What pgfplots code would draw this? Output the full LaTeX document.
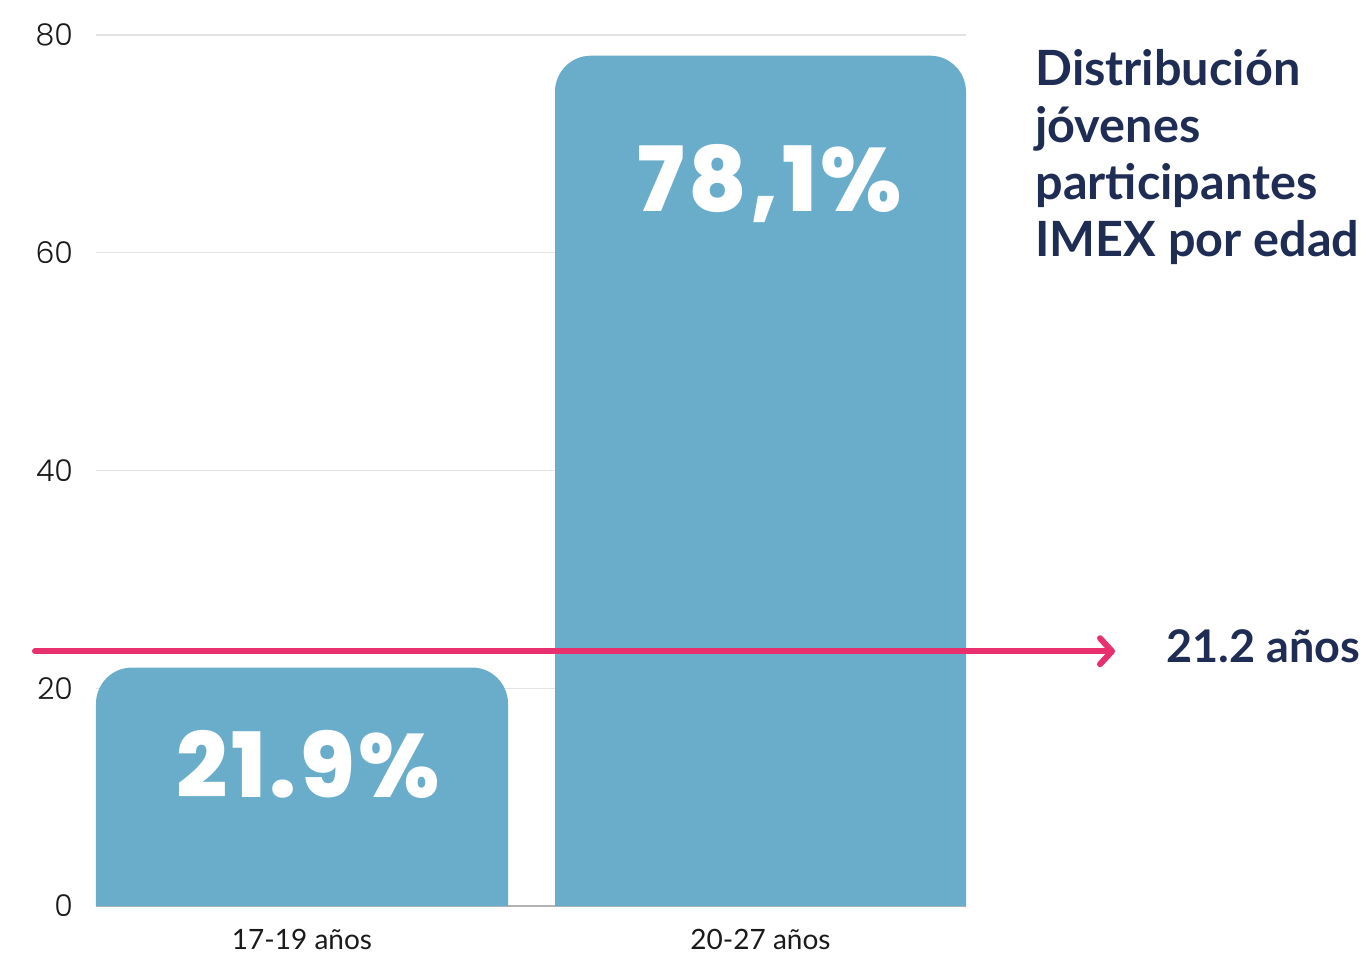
\documentclass[border=0pt]{standalone}
\usepackage{fontspec}
\usepackage{pgfplots}
\pgfplotsset{compat=1.18}
\usetikzlibrary{arrows.meta}
\setmainfont{Lato}
\newfontfamily\tickfont{Poppins Light}
\newfontfamily\xfont{Lato}
\newfontfamily\titlefont{Lato Bold}
\newfontfamily\barfont[LetterSpace=4]{Poppins ExtraBold}
\definecolor{barblue}{HTML}{69ADCB}
\definecolor{navy}{HTML}{1F2D54}
\definecolor{arrowred}{HTML}{E8306F}
\definecolor{ticktext}{HTML}{1A1A1A}
\begin{document}
\begin{tikzpicture}
\useasboundingbox (-48pt,-23.5pt) rectangle (637pt,453pt);
\begin{axis}[
  at={(0,0)}, anchor=south west,
  scale only axis, width=435pt, height=435.5pt,
  xmin=0, xmax=870, ymin=0, ymax=80,
  clip=false,
  axis x line*=bottom, axis y line*=left,
  y axis line style={draw=none},
  x axis line style={draw=gray!60, line width=0.6pt, -},
  major tick length=0pt,
  ymajorgrids=true,
  grid style={gray!22, line width=0.6pt},
  ytick={0,20,40,60,80},
  xtick={206,664.5},
  xticklabels={17-19 años, 20-27 años},
  /pgf/number format/assume math mode=true,
  yticklabel style={font=\tickfont\fontsize{15}{18}\selectfont, text=ticktext, anchor=east, xshift=-8pt},
  xticklabel style={font=\xfont\fontsize{14}{17}\selectfont, text=ticktext, yshift=-8pt},
]
\addplot[fill=barblue, draw=none, no markers, rounded corners=18pt] coordinates {(0,0) (0,21.9) (412,21.9) (412,0)};
\addplot[fill=barblue, draw=none, no markers, rounded corners=18pt] coordinates {(459,0) (459,78.1) (870,78.1) (870,0)};
\addplot[draw=arrowred, line width=3pt, no markers, line cap=round, -{Straight Barb[length=6pt,width=13pt,round]}] coordinates {(-61,23.4) (1019,23.4)};
\node[anchor=base, inner sep=0pt, text=white, font=\barfont\fontsize{45}{50}\selectfont] at (axis cs:212,9.92) {21.9\%};
\node[anchor=base, inner sep=0pt, text=white, font=\barfont\fontsize{45}{50}\selectfont] at (axis cs:674,63.8) {78,1\%};
\node[anchor=base west, inner sep=0pt, text=navy, font=\titlefont\fontsize{22.5}{26}\selectfont] at (axis cs:1070,22.4) {21.2 años};
\node[anchor=north west, inner sep=0pt, align=left, text=navy, font=\titlefont\fontsize{24.3}{28.5}\selectfont] at (axis cs:939,78.7) {Distribución\\jóvenes\\participantes\\IMEX por edad};
\end{axis}
\end{tikzpicture}
\end{document}
